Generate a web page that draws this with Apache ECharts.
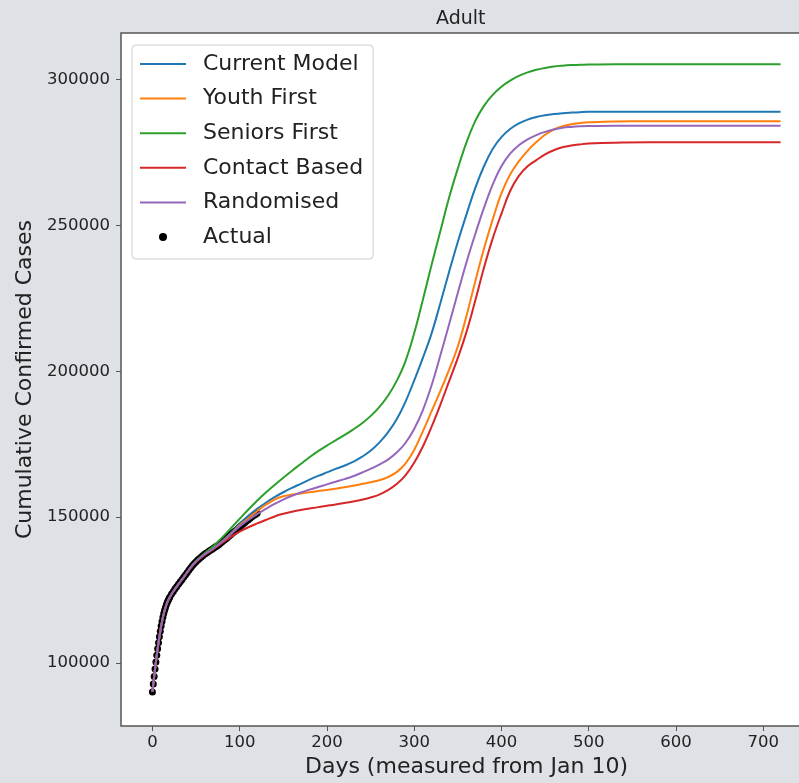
<!DOCTYPE html>
<html>
<head>
<meta charset="utf-8">
<script src="https://cdn.jsdelivr.net/npm/echarts@6/dist/echarts.min.js"></script>
<style>
html,body{margin:0;padding:0;background:#dee2e6;overflow:hidden;width:799px;height:783px;}
#chart{width:815px;height:783px;}
</style>
</head>
<body>
<div id="chart"></div>
<script>
// ---- data ----
const days = [0,2,5,8,12,16,20,28,36,47,58,70,80,90,100,110,120,130,140,150,160,170,180,190,200,210,220,230,240,250,260,270,280,290,300,310,320,330,340,350,360,370,380,390,400,410,420,430,440,450,460,470,480,490,500,530,570,620,670,720];

const currentModel = [90000,95300,102600,108900,115600,119900,122600,126200,129400,133800,136800,139300,141700,144500,147600,150400,152800,154900,156800,158500,160000,161400,162800,164100,165300,166500,167600,168900,170600,172700,175500,179000,183500,189500,196800,204600,213000,223300,234000,244300,253800,262800,270300,276200,280300,283100,285000,286300,287200,287800,288200,288500,288700,288850,288950,289000,289000,289000,289000,289000];

const youthFirst = [90000,95300,102600,108900,115600,119900,122600,126200,129400,133800,136800,139300,141600,144300,147200,149600,152000,154200,156000,157100,157700,158100,158500,158900,159300,159700,160200,160700,161300,161900,162600,163700,165400,168300,173000,179400,186300,193200,200500,208500,219000,230800,242000,252000,261000,267500,272000,275600,278600,281100,282900,284000,284700,285100,285350,285650,285700,285700,285700,285700];

const seniorsFirst = [90000,95300,102600,108900,115600,119900,122600,126200,129400,133900,137100,140100,143000,146200,149400,152600,155600,158400,161000,163500,165900,168200,170500,172600,174500,176300,178100,180000,182100,184600,187700,191600,196700,203400,213000,224500,236500,248000,259500,269500,278500,285800,291000,294800,297600,299700,301300,302500,303400,304000,304500,304800,305000,305100,305200,305300,305300,305300,305300,305300];

const contactBased = [90000,95300,102600,108900,115600,119900,122600,126200,129400,133700,136600,139000,141100,143200,145000,146500,147800,149000,150200,151100,151800,152400,152900,153400,153850,154300,154800,155300,155900,156700,157700,159200,161300,164300,168600,174200,181000,188500,196500,204500,213500,224200,235500,245500,254000,261800,267000,270300,272400,274400,275800,276800,277400,277800,278100,278400,278500,278500,278500,278500];

const randomised = [90000,95300,102600,108900,115600,119900,122600,126200,129400,133800,136800,139200,141500,144100,146800,149000,151000,152800,154500,156000,157300,158400,159400,160300,161200,162100,163000,164000,165200,166500,168000,169700,172100,175400,180200,186700,195200,205400,216000,226800,237400,247000,256000,264000,270300,274600,277500,279500,281000,282100,282900,283500,283800,284000,284100,284200,284200,284200,284200,284200];

const actualDays = [0,1,2,3,4,5,6,7,8,9,10,11,12,13,14,15,16,17,18,19,20,22,24,26,28,30,32,34,36,38,40,42,44,46,48,50,52,54,56,58,60,62,64,66,68,70,72,74,76,78,80,82,84,86,88,90,92,94,96,98,100,102,104,106,108,110,112,114,116,118,120];
const actualCases = [90000,92700,95300,97900,100300,102600,104800,106900,108900,110800,112600,114200,115600,116900,118000,119000,119900,120700,121400,122000,122600,123600,124500,125400,126200,127000,127800,128600,129400,130200,131000,131800,132600,133400,134100,134700,135300,135800,136300,136800,137300,137700,138100,138500,138900,139300,139700,140100,140500,141000,141500,142000,142500,143000,143500,144000,144500,145000,145500,146000,146600,147100,147600,148100,148600,149100,149600,150100,150500,150900,151300];

const xTicks = [0,100,200,300,400,500,600,700];
const yTicks = [100000,150000,200000,250000,300000];

const seriesNames = ['Current Model','Youth First','Seniors First','Contact Based','Randomised'];
const seriesValues = [currentModel, youthFirst, seniorsFirst, contactBased, randomised];
const seriesColors = ['#1f77b4','#ff7f0e','#2ca02c','#d62728','#9467bd'];

// ---- chart ----
const FONT = 'DejaVu Sans';
const chart = echarts.init(document.getElementById('chart'), null, {renderer:'canvas'});

const LINE_ICON = 'path://M0,0h46v2h-46z';

const lineSeries = seriesNames.map((name, i) => ({
  name: name,
  type: 'line',
  data: days.map((d, j) => [d, seriesValues[i][j]]),
  symbol: 'none',
  smooth: 0.4,
  lineStyle: {color: seriesColors[i], width: 2},
  itemStyle: {color: seriesColors[i]},
  z: 3 + i,
  animation: false
}));

const option = {
  backgroundColor: '#dee2e6',
  animation: false,
  title: {
    text: 'Adult',
    left: 431,
    top: 5,
    textStyle: {fontFamily: FONT, fontSize: 19, fontWeight: 'normal', color: '#222'}
  },
  legend: {
    orient: 'vertical',
    left: 132,
    top: 45,
    padding: [8, 10, 11, 8],
    itemWidth: 46,
    itemHeight: 8,
    itemGap: 12.6,
    backgroundColor: '#fff',
    borderColor: '#cccccc',
    borderWidth: 1,
    borderRadius: 4,
    textStyle: {fontFamily: FONT, fontSize: 22, color: '#222', padding: [0, 0, 0, 12]},
    data: seriesNames.map((n, i) => ({name: n, icon: LINE_ICON, itemStyle: {color: seriesColors[i]}}))
      .concat([{name: 'Actual', icon: 'circle', itemStyle: {color: '#000'}}])
  },
  grid: {
    left: 121,
    right: 3,
    top: 33,
    bottom: 56,
    show: true,
    backgroundColor: '#ffffff',
    borderColor: '#555',
    borderWidth: 1.5,
    containLabel: false
  },
  xAxis: {
    type: 'value',
    min: -36,
    max: 756,
    name: 'Days (measured from Jan 10)',
    nameLocation: 'middle',
    nameGap: 28,
    nameTextStyle: {fontFamily: FONT, fontSize: 22, color: '#222'},
    splitLine: {show: false},
    axisLine: {show: false, onZero: false},
    axisTick: {show: true, length: 5, lineStyle: {color: '#555'}, customValues: xTicks},
    axisLabel: {fontFamily: FONT, fontSize: 16.5, color: '#222', margin: 8, customValues: xTicks,
      formatter: v => String(v)}
  },
  yAxis: {
    type: 'value',
    min: 78300,
    max: 316000,
    name: 'Cumulative Confirmed Cases',
    nameLocation: 'middle',
    nameGap: 74,
    nameTextStyle: {fontFamily: FONT, fontSize: 22, color: '#222'},
    splitLine: {show: false},
    axisLine: {show: false, onZero: false},
    axisTick: {show: true, length: 5, lineStyle: {color: '#555'}, customValues: yTicks},
    axisLabel: {fontFamily: FONT, fontSize: 16.5, color: '#222', margin: 11, customValues: yTicks,
      formatter: v => String(v)}
  },
  series: [{
    name: 'Actual',
    type: 'scatter',
    data: actualDays.map((d, i) => [d, actualCases[i]]),
    symbol: 'circle',
    symbolSize: 7,
    itemStyle: {color: '#000', opacity: 1},
    z: 2,
    animation: false
  }].concat(lineSeries)
};
chart.setOption(option);
</script>
</body>
</html>
